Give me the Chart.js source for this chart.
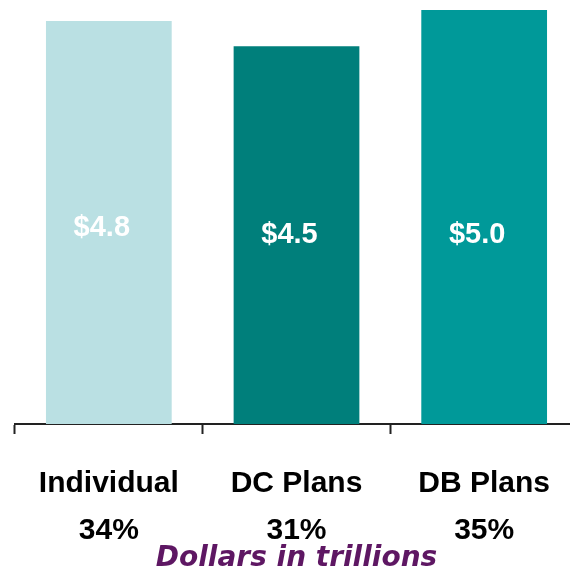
<!DOCTYPE html>
<html>
<head>
<meta charset="utf-8">
<script src="https://cdn.jsdelivr.net/npm/chart.js@4"></script>
<style>
  html, body { margin: 0; padding: 0; overflow: hidden; background: #fff; }
  #wrap { position: absolute; left: 0; top: 0; width: 600px; height: 580px; }
</style>
</head>
<body>
<div id="wrap"><canvas id="assets"></canvas></div>
<script>
// retirement assets by type, trillions of dollars
const categories = ['Individual', 'DC Plans', 'DB Plans'];
const shares = ['34%', '31%', '35%'];
const trillions = [4.8, 4.5, 4.93];
const valueLabels = ['$4.8', '$4.5', '$5.0'];
const barColors = ['#bae0e3', '#007f7b', '#009999'];

// where the white value text sits inside each bar (in axis units)
const labelLevel = [2.33, 2.25, 2.25];

const barText = {
    id: 'barText',
    afterDatasetsDraw(chart) {
        const ctx = chart.ctx;
        const yScale = chart.scales.y;
        const meta = chart.getDatasetMeta(0);
        ctx.save();
        ctx.fillStyle = '#ffffff';
        ctx.font = 'bold 29px "Liberation Sans", Arial, sans-serif';
        ctx.textAlign = 'center';
        ctx.textBaseline = 'middle';
        meta.data.forEach((bar, i) => {
            ctx.fillText(valueLabels[i], bar.x - 7, yScale.getPixelForValue(labelLevel[i]));
        });
        ctx.restore();
    }
};

new Chart(document.getElementById('assets'), {
    type: 'bar',
    data: {
        labels: categories.map((c, i) => [c, shares[i]]),
        datasets: [{
            data: trillions,
            backgroundColor: barColors,
            borderWidth: 0,
            categoryPercentage: 1,
            barPercentage: 0.67
        }]
    },
    options: {
        responsive: true,
        maintainAspectRatio: false,
        animation: false,
        layout: { padding: { left: 15, right: 22, top: 0, bottom: 7 } },
        plugins: {
            legend: { display: false },
            tooltip: { enabled: false }
        },
        scales: {
            y: {
                display: false,
                min: 0,
                max: 5.05
            },
            x: {
                grid: {
                    drawOnChartArea: false,
                    tickLength: 10,
                    tickWidth: 2,
                    tickColor: '#222'
                },
                border: { color: '#222', width: 2 },
                ticks: {
                    color: '#000',
                    padding: 26,
                    font: { family: '"Liberation Sans", Arial, sans-serif', size: 30, weight: 'bold', lineHeight: 47 / 30 }
                },
                title: {
                    display: true,
                    text: 'Dollars in trillions',
                    color: '#5e1763',
                    padding: { top: -35, bottom: 0 },
                    font: { family: '"DejaVu Sans", Verdana, sans-serif', size: 28, weight: 'bold', style: 'italic', lineHeight: 1 }
                }
            }
        }
    },
    plugins: [barText]
});
</script>
</body>
</html>
